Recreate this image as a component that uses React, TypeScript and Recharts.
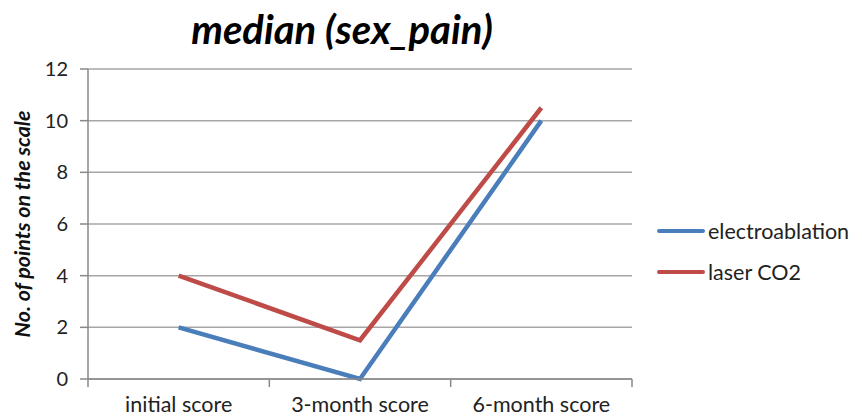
import React from 'react';
import { LineChart, Line, XAxis, YAxis, CartesianGrid, Label } from 'recharts';

const categories = ['initial score', '3-month score', '6-month score'];
const electroablation = [2, 0, 10];
const laserCO2 = [4, 1.5, 10.5];
const yTicks = [0, 2, 4, 6, 8, 10, 12];

const seriesNames = { electro: 'electroablation', laser: 'laser CO2' };
const colors = { electro: '#4a7ebb', laser: '#be4b48' };

// x sits in the middle of each category band, so ticks fall on band boundaries
const data = categories.map((name, i) => ({
    x: i + 0.5,
    name,
    electro: electroablation[i],
    laser: laserCO2[i],
}));

const xTicks = [0, 0.5, 1, 1.5, 2, 2.5, 3];
const FONT = 'Lato, "Open Sans", sans-serif';

const XTick = (props: any) => {
    const { x, y, payload } = props;
    const v = payload.value as number;
    if (Number.isInteger(v)) {
        return <line x1={x} x2={x} y1={y - 8} y2={y} stroke="#888" strokeWidth={1.5} />;
    }
    const label = categories[Math.floor(v)];
    return (
        <text x={x} y={y + 25} textAnchor="middle" fontSize={21.5} fill="#222" fontFamily={FONT}>
            {label}
        </text>
    );
};

const LegendBox = () => (
    <div
        style={{
            position: 'absolute',
            left: 657,
            top: 210,
            fontFamily: FONT,
            fontSize: 21.5,
            color: '#222',
        }}
    >
        {(['electro', 'laser'] as const).map((k) => (
            <div key={k} style={{ display: 'flex', alignItems: 'center', height: 41 }}>
                <div style={{ width: 48, height: 4, background: colors[k], borderRadius: 2, marginRight: 3 }} />
                <span>{seriesNames[k]}</span>
            </div>
        ))}
    </div>
);

const YLabel = (props: any) => {
    const { viewBox } = props;
    const cx = viewBox.x + 24;
    const cy = viewBox.y + viewBox.height / 2;
    return (
        <text
            x={cx}
            y={cy}
            transform={`rotate(-90 ${cx} ${cy})`}
            textAnchor="middle"
            dominantBaseline="middle"
            fontSize={21.5}
            fontWeight="bold"
            fontStyle="italic"
            fill="#111"
            fontFamily={FONT}
        >
            No. of points on the scale
        </text>
    );
};

export default function App() {
    return (
        <div style={{ position: 'absolute', left: 0, top: 0, width: 862, height: 418, background: '#fff' }}>
            <div
                style={{
                    position: 'absolute',
                    left: 92,
                    width: 500,
                    top: 4,
                    textAlign: 'center',
                    fontFamily: FONT,
                    fontWeight: 'bold',
                    fontStyle: 'italic',
                    fontSize: 40,
                    color: '#000',
                    lineHeight: '50px',
                }}
            >
                median (sex_pain)
            </div>
            <LineChart width={862} height={418} data={data} margin={{ top: 69, right: 230, bottom: 0, left: 0 }}>
                <CartesianGrid vertical={false} stroke="#a6a6a6" strokeWidth={1.5} />
                <XAxis
                    dataKey="x"
                    type="number"
                    domain={[0, 3]}
                    ticks={xTicks}
                    interval={0}
                    tick={<XTick />}
                    tickLine={false}
                    axisLine={{ stroke: '#888', strokeWidth: 1.5 }}
                    height={39}
                />
                <YAxis
                    domain={[0, 12]}
                    ticks={yTicks}
                    interval={0}
                    width={88}
                    tick={{ fontSize: 20, fill: '#222', fontFamily: FONT }}
                    tickLine={{ stroke: '#888', strokeWidth: 1.5 }}
                    tickSize={8}
                    tickMargin={12}
                    axisLine={{ stroke: '#888', strokeWidth: 1.5 }}
                >
                    <Label content={<YLabel />} />
                </YAxis>
                <Line
                    dataKey="electro"
                    name={seriesNames.electro}
                    stroke={colors.electro}
                    strokeWidth={4.5}
                    dot={false}
                    isAnimationActive={false}
                    strokeLinejoin="miter"
                />
                <Line
                    dataKey="laser"
                    name={seriesNames.laser}
                    stroke={colors.laser}
                    strokeWidth={4.5}
                    dot={false}
                    isAnimationActive={false}
                    strokeLinejoin="miter"
                />
            </LineChart>
            <LegendBox />
        </div>
    );
}
